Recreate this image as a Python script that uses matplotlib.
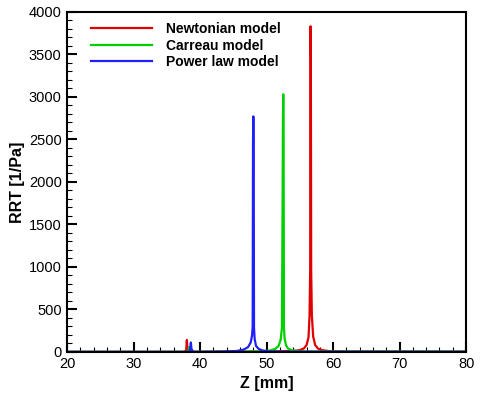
import matplotlib
matplotlib.use("Agg")
import matplotlib.pyplot as plt
from matplotlib.ticker import MultipleLocator

plt.rcParams['font.family'] = ['Liberation Sans', 'DejaVu Sans']

# RRT along the vessel axis
z_newt = [20, 37.6, 37.9, 38.0, 38.1, 38.4, 42, 50, 54, 55, 55.6, 56.0, 56.3, 56.45,
          56.55, 56.6, 56.65, 56.7, 56.8, 57.0, 57.3, 57.7, 58.3, 59.5, 62, 80]
rrt_newt = [0, 0, 20, 140, 20, 0, 2, 5, 10, 20, 40, 80, 170, 420,
            960, 3830, 3440, 950, 430, 180, 80, 40, 20, 8, 3, 2]

z_carr = [20, 38.0, 38.25, 38.35, 38.45, 38.7, 44, 49, 50.5, 51.3, 51.8, 52.1, 52.3,
          52.4, 52.45, 52.5, 52.55, 52.6, 52.7, 52.9, 53.2, 53.7, 54.5, 56, 80]
rrt_carr = [0, 0, 15, 60, 15, 0, 2, 6, 15, 35, 70, 140, 280,
            1750, 2700, 3030, 2700, 300, 160, 80, 40, 20, 10, 4, 2]

z_pow = [20, 38.3, 38.5, 38.6, 38.7, 39.0, 43, 45.5, 46.5, 47.2, 47.6, 47.8, 47.9,
         47.95, 48.0, 48.05, 48.1, 48.2, 48.4, 48.8, 49.4, 50.5, 52, 80]
rrt_pow = [0, 0, 30, 110, 30, 0, 3, 10, 25, 55, 110, 190, 300,
           2460, 2770, 2460, 280, 150, 70, 35, 15, 6, 3, 1]

fig = plt.figure(figsize=(4.8, 3.94), dpi=100)
ax = fig.add_axes([0.14, 0.107, 0.831, 0.863])

ax.plot(z_newt, rrt_newt, color='#e00000', lw=1.6, label='Newtonian model')
ax.plot(z_carr, rrt_carr, color='#00d000', lw=1.6, label='Carreau model')
ax.plot(z_pow, rrt_pow, color='#2020ff', lw=1.6, label='Power law model')

ax.set_xlim(20, 80)
ax.set_ylim(0, 4000)
ax.xaxis.set_major_locator(MultipleLocator(10))
ax.xaxis.set_minor_locator(MultipleLocator(2))
ax.yaxis.set_major_locator(MultipleLocator(500))
ax.yaxis.set_minor_locator(MultipleLocator(100))
ax.tick_params(which='major', direction='in', length=7, width=1.5, labelsize=10.5, pad=4)
ax.tick_params(which='minor', direction='in', length=3.5, width=0.8)
ax.tick_params(top=False, right=False, which='both')
for s in ax.spines.values():
    s.set_linewidth(1.5)

ax.set_xlabel('Z [mm]', fontsize=11.5, weight='bold', labelpad=3)
ax.set_ylabel('RRT [1/Pa]', fontsize=11.5, weight='bold', labelpad=3)

leg = ax.legend(loc='upper left', frameon=False, fontsize=10, handlelength=4.4,
                handletextpad=1.0, labelspacing=0.18, borderaxespad=0.3,
                bbox_to_anchor=(0.035, 0.998))
for t in leg.get_texts():
    t.set_fontweight('bold')

fig.savefig('out.png', dpi=100)
